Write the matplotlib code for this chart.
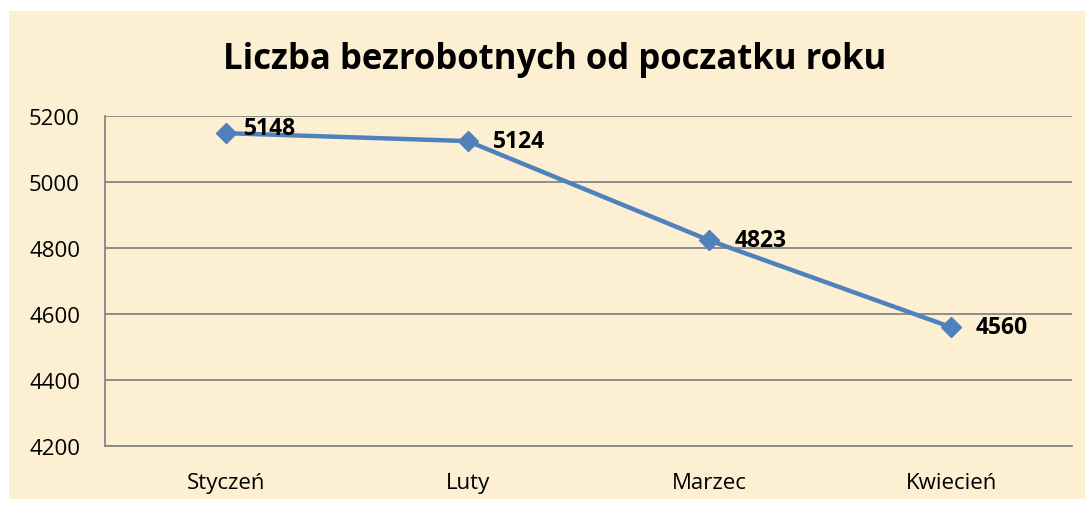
import matplotlib.pyplot as plt
from matplotlib.patches import Rectangle

months = ['Styczeń', 'Luty', 'Marzec', 'Kwiecień']
counts = [5148, 5124, 4823, 4560]
yticks = [4200, 4400, 4600, 4800, 5000, 5200]

plt.rcParams['font.family'] = ['Open Sans', 'DejaVu Sans']

fig = plt.figure(figsize=(10.87, 5.06), dpi=100, facecolor='white')
# parchment panel behind the chart
fig.patches.append(Rectangle((9/1087, 6/506), 1076/1087, 488/506, transform=fig.transFigure,
                             facecolor='#fcefd2', edgecolor='none', zorder=-10))

ax = fig.add_axes([105/1087, 59/506, 967/1087, 330/506])
ax.set_facecolor('none')

x = range(len(months))
ax.plot(x, counts, color='#4f81bd', lw=3.2, marker='D', ms=10, zorder=3)
for i, v in enumerate(counts):
    dx, dy = (13, 4) if i == 0 else (18, 0)
    ax.annotate(str(v), (i, v), xytext=(dx, dy), textcoords='offset points',
                ha='left', va='center', fontsize=16.5, fontweight='bold')

ax.set_xlim(-0.5, len(months) - 0.5)
ax.set_ylim(4200, 5200)
ax.set_yticks(yticks)
ax.set_xticks(list(x))
ax.set_xticklabels(months)
ax.tick_params(axis='both', length=0, labelsize=16)
ax.tick_params(axis='y', pad=18)
ax.tick_params(axis='x', pad=19)
ax.grid(axis='y', color='#868686', lw=1.3)
ax.set_axisbelow(True)
for s in ['top', 'right']:
    ax.spines[s].set_visible(False)
for s in ['left', 'bottom']:
    ax.spines[s].set_color('#868686')
    ax.spines[s].set_linewidth(1.3)

fig.text(555/1087, 1 - 60/506, 'Liczba bezrobotnych od poczatku roku', ha='center', va='center',
         fontsize=25, fontweight='bold')

plt.savefig('out.png', dpi=100)
